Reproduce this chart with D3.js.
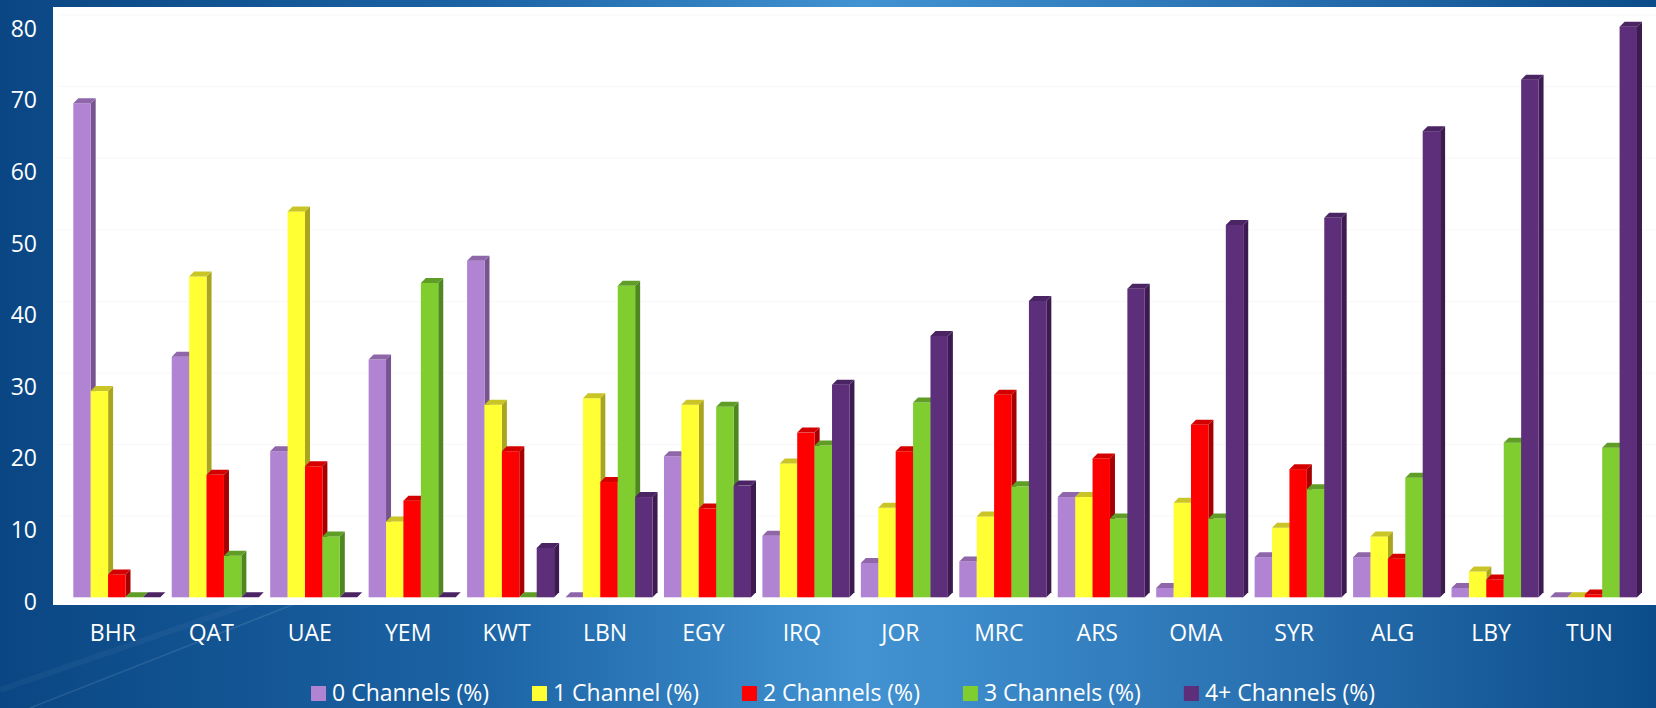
<!DOCTYPE html>
<html>
<head>
<meta charset="utf-8">
<script src="https://cdn.jsdelivr.net/npm/d3@7"></script>
<style>
	body { margin: 0; overflow: hidden; }
	text { font-family: 'Open Sans', sans-serif; fill: #fff; }
</style>
</head>
<body>
<svg id="chart-svg" width="1656" height="708"></svg>
<script>
// Countries and share of households by number of channels received
const CATEGORIES = ['BHR', 'QAT', 'UAE', 'YEM', 'KWT', 'LBN', 'EGY', 'IRQ', 'JOR', 'MRC', 'ARS', 'OMA', 'SYR', 'ALG', 'LBY', 'TUN'];
const SERIES = ['0 Channels (%)', '1 Channel (%)', '2 Channels (%)', '3 Channels (%)', '4+ Channels (%)'];

const CH0 = [69.0, 33.6, 20.4, 33.2, 47.0, 0, 19.7, 8.6, 4.8, 5.0, 14.0, 1.3, 5.6, 5.6, 1.3, 0];
const CH1 = [28.8, 44.8, 53.9, 10.6, 26.9, 27.8, 26.9, 18.7, 12.5, 11.3, 14.0, 13.2, 9.7, 8.5, 3.6, 0];
const CH2 = [3.2, 17.1, 18.3, 13.5, 20.4, 16.1, 12.4, 23.0, 20.4, 28.3, 19.4, 24.1, 17.9, 5.4, 2.5, 0.4];
const CH3 = [0, 5.8, 8.5, 43.9, 0, 43.5, 26.6, 21.2, 27.2, 15.5, 11.0, 11.0, 15.1, 16.7, 21.6, 20.9];
const CH4 = [0, 0, 0, 0, 6.9, 14.0, 15.6, 29.7, 36.5, 41.4, 43.1, 52.0, 53.0, 65.1, 72.3, 79.7];

const Y_TICKS = [0, 10, 20, 30, 40, 50, 60, 70, 80];

const seriesValues = [CH0, CH1, CH2, CH3, CH4];

// front / side / top shades for each series
const FRONT = ['#b183d3', '#ffff33', '#ff0000', '#7fcd2f', '#5d2e79'];
const SIDE = ['#78548f', '#a9a51f', '#a60000', '#4f8720', '#3d1b51'];
const TOP = ['#8e66a9', '#c9c526', '#d40000', '#5f9d26', '#4b2464'];

const W = 1656, H = 708;
const DX = 5, DY = 5; // depth of the 3d bars

let svg = d3.select('#chart-svg');

// background gradient
let defs = svg.append('defs');
let bg = defs.append('linearGradient').attr('id', 'bg').attr('x1', 0).attr('x2', 1).attr('y1', 0).attr('y2', 0);
[[0, '#0a4683'], [0.3, '#1d65a6'], [0.52, '#4293d2'], [0.76, '#2a72b2'], [1, '#0c4c8a']].forEach((s) => {
	bg.append('stop').attr('offset', s[0]).attr('stop-color', s[1]);
});
svg.append('rect').attr('width', W).attr('height', H).attr('fill', 'url(#bg)');

// faint diagonal light streaks
svg.append('line').attr('x1', 30).attr('y1', 708).attr('x2', 330).attr('y2', 590)
	.attr('stroke', '#fff').attr('stroke-opacity', 0.1).attr('stroke-width', 1.5);
svg.append('line').attr('x1', 0).attr('y1', 690).attr('x2', 260).attr('y2', 600)
	.attr('stroke', '#fff').attr('stroke-opacity', 0.04).attr('stroke-width', 6);

// white plot area
svg.append('rect').attr('x', 53).attr('y', 7).attr('width', W - 53).attr('height', 598).attr('fill', '#fff');

// scales
const x = d3.scaleBand().domain(CATEGORIES).range([73.3, 1637]).paddingInner(0.116).paddingOuter(0);
const xs = d3.scaleBand().domain(d3.range(SERIES.length)).range([0, x.bandwidth()]);
const y = d3.scaleLinear().domain([0, 80]).range([597.3, 597.3 - 80 * 7.16]);

// back wall gridlines (very light)
svg.append('g')
	.selectAll('line')
	.data(Y_TICKS.slice(1))
	.enter()
	.append('line')
	.attr('x1', 58)
	.attr('x2', W)
	.attr('y1', (d) => y(d) - 9.5)
	.attr('y2', (d) => y(d) - 9.5)
	.attr('stroke', '#f8f8f8')
	.attr('stroke-width', 1);

// build bar list, drawn left to right so each bar hides the previous side face
let bars = [];
CATEGORIES.forEach((c, ci) => {
	seriesValues.forEach((vals, si) => {
		bars.push({ cat: c, s: si, v: vals[ci] });
	});
});

let barG = svg.append('g').attr('class', 'bars');
bars.forEach((b) => {
	let x0 = x(b.cat) + xs(b.s);
	let w = xs.bandwidth();
	let yt = y(b.v);
	let yb = y(0);
	let g = barG.append('g');
	// side face
	g.append('path')
		.attr('d', `M${x0 + w},${yt} L${x0 + w + DX},${yt - DY} L${x0 + w + DX},${yb - DY} L${x0 + w},${yb} Z`)
		.attr('fill', SIDE[b.s]);
	// front face
	if (yb - yt > 0.2) {
		g.append('rect').attr('x', x0).attr('y', yt).attr('width', w).attr('height', yb - yt).attr('fill', FRONT[b.s]);
	}
	// top face
	g.append('path')
		.attr('d', `M${x0},${yt} L${x0 + DX},${yt - DY} L${x0 + w + DX},${yt - DY} L${x0 + w},${yt} Z`)
		.attr('fill', TOP[b.s]);
});

// y axis labels
const yAxis = d3.axisLeft(y).tickValues(Y_TICKS).tickSize(0).tickPadding(0).tickFormat(d3.format('d'));
let yG = svg.append('g').attr('transform', 'translate(37, 4.5)').call(yAxis);
yG.select('.domain').remove();
yG.selectAll('text').attr('font-size', 23).attr('font-family', null).attr('fill', '#fff');

// x axis labels
const xAxis = d3.axisBottom(x).tickSize(0).tickPadding(0);
let xG = svg.append('g').attr('transform', 'translate(-4, 633)').call(xAxis);
xG.select('.domain').remove();
xG.selectAll('text').attr('font-size', 23).attr('font-family', null).attr('fill', '#fff').attr('y', 0).attr('dy', '0.35em');

// legend
let legendG = svg.append('g').attr('class', 'legend');
let items = legendG.selectAll('g').data(SERIES).enter().append('g');
items.append('rect').attr('width', 15).attr('height', 15).attr('y', 686).attr('fill', (d, i) => FRONT[i]);
items.append('text').attr('x', 21).attr('y', 693).attr('dy', '0.35em').attr('font-size', 23).text((d) => d);
const GAP = 43;
let widths = [];
items.each(function () {
	widths.push(21 + d3.select(this).select('text').node().getComputedTextLength());
});
let total = d3.sum(widths) + GAP * (widths.length - 1);
let pos = 843 - total / 2;
items.attr('transform', (d, i) => {
	let t = 'translate(' + pos + ',0)';
	pos += widths[i] + GAP;
	return t;
});
</script>
</body>
</html>
